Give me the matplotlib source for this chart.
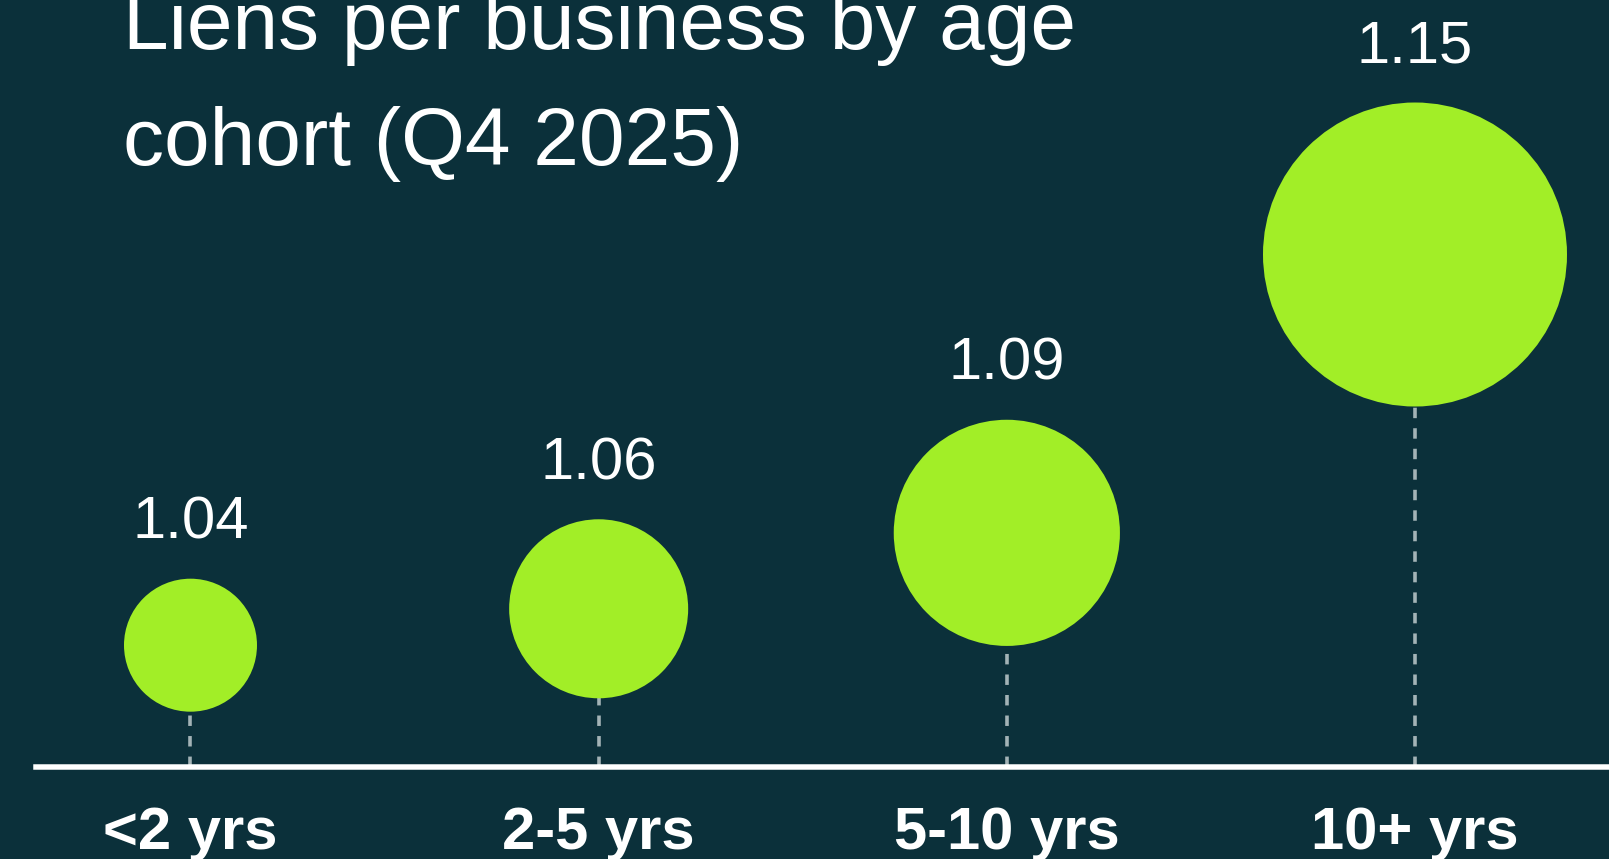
import numpy as np
import matplotlib
matplotlib.use("Agg")
import matplotlib.pyplot as plt

# data
cohorts = ["<2 yrs", "2-5 yrs", "5-10 yrs", "10+ yrs"]
liens = [1.04, 1.06, 1.09, 1.15]
title = "Liens per business by age\ncohort (Q4 2025)"

bg = "#0b303a"
bubble = "#a2ee27"
dash_col = "#a3b3b6"

W, H, DPI = 1609, 859, 100
plt.rcParams["font.family"] = ["Liberation Sans", "DejaVu Sans"]

fig = plt.figure(figsize=(W / DPI, H / DPI), dpi=DPI, facecolor=bg)
base_px = 767  # baseline, pixels from the top
ax = fig.add_axes([36 / W, (H - base_px) / H, 1 - 36 / W, base_px / H])
ax.set_facecolor(bg)

# y axis grows exponentially with the value (as in the reference)
k = 13.04
fwd = lambda v: np.exp(k * (np.asarray(v) - 1.04))
inv = lambda u: 1.04 + np.log(np.clip(u, 1e-12, None)) / k
ax.set_yscale("function", functions=(fwd, inv))
ax.set_ylim(0.6, 1.1809)
ax.set_xlim(-0.3785, 3.4753)

x = np.arange(len(cohorts))
vals = np.array(liens)

# bubble radius (px) scales with the value
r_min, r_max = 66.5, 152
t = (vals - vals.min()) / (vals.max() - vals.min())
radius = r_min + (r_max - r_min) * t ** 0.77
pt = 72 / DPI

ax.vlines(x, 0.6, vals, colors=dash_col, linewidth=3.6 * pt,
          linestyles=(0, (2.9, 2.8)), zorder=1)
ax.scatter(x, vals, s=(2 * radius * pt) ** 2, color=bubble, linewidths=0,
           zorder=2, clip_on=False)

for xi, v, r in zip(x, vals, radius):
    ax.annotate(f"{v:.2f}", (xi, v), xytext=(0, (r + 40) * pt),
                textcoords="offset points", ha="center", va="baseline",
                color="white", fontsize=43)

for side in ["top", "left", "right"]:
    ax.spines[side].set_visible(False)
ax.spines["bottom"].set_color("white")
ax.spines["bottom"].set_linewidth(5.5 * pt)
ax.spines["bottom"].set_zorder(3)

ax.set_yticks([])
ax.set_xticks(x)
ax.set_xticklabels(cohorts, fontsize=43, fontweight="bold", color="white")
ax.tick_params(axis="x", length=0, pad=28)

fig.text(123 / W, (H - 165) / H, title, color="white", fontsize=59,
         va="baseline", ha="left", linespacing=1.68)

fig.savefig("out.png", dpi=DPI, facecolor=bg)
